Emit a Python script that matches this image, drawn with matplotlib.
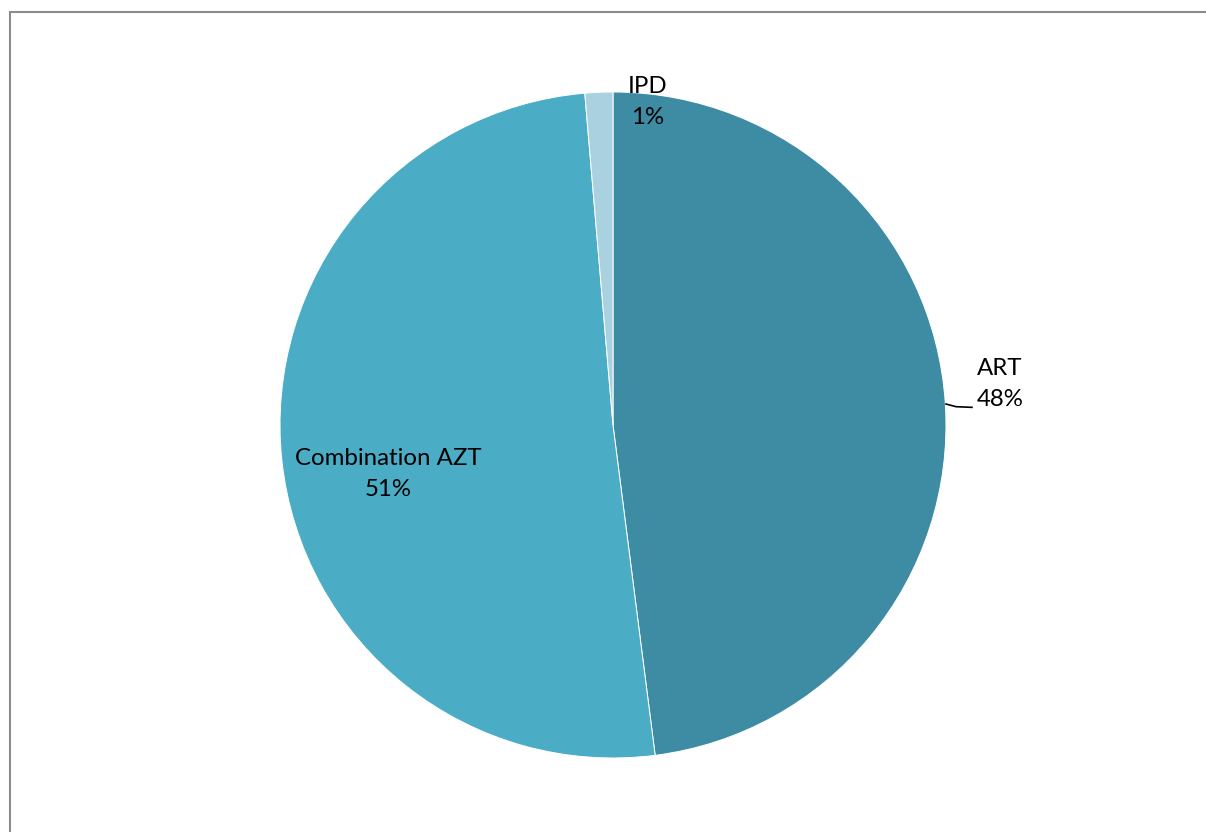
import matplotlib.pyplot as plt
from matplotlib.patches import Rectangle

labels = ['ART', 'Combination AZT', 'IPD']
values = [47.98, 50.67, 1.35]
pct_text = ['48%', '51%', '1%']
colors = ['#3d8ca3', '#4bacc6', '#a9d1df']

plt.rcParams['font.family'] = ['Lato', 'DejaVu Sans']

W, H = 1206, 832
fig = plt.figure(figsize=(W / 100, H / 100), dpi=100)

# outer frame (only left and top edges visible in the reference)
fig.patches.append(Rectangle((9.5 / W, -0.1), 1.2, 1 - 12 / H + 0.1,
                             transform=fig.transFigure, fill=False,
                             edgecolor='#8c8c8c', linewidth=1.5))

cx, cy, r = 613, 425, 333
ax = fig.add_axes([(cx - r) / W, (H - cy - r) / H, 2 * r / W, 2 * r / H])
ax.pie(values, colors=colors, startangle=90, counterclock=False,
       radius=1, wedgeprops={'linewidth': 0.7, 'edgecolor': 'white'})
ax.set_xlim(-1, 1)
ax.set_ylim(-1, 1)
ax.set_aspect('equal')
ax.axis('off')

label_pos = {'ART': (1.162, 0.123), 'Combination AZT': (-0.676, -0.147),
             'IPD': (0.105, 0.97)}
for lab, p in zip(labels, pct_text):
    x, y = label_pos[lab]
    ax.text(x, y, lab + '\n' + p, ha='center', va='center', fontsize=17.3,
            linespacing=1.6, clip_on=False)

# leader line for ART
ax.plot([1.0, 1.03, 1.078], [0.063, 0.055, 0.053], color='black',
        linewidth=1.2, clip_on=False)

fig.savefig('out.png', dpi=100)
